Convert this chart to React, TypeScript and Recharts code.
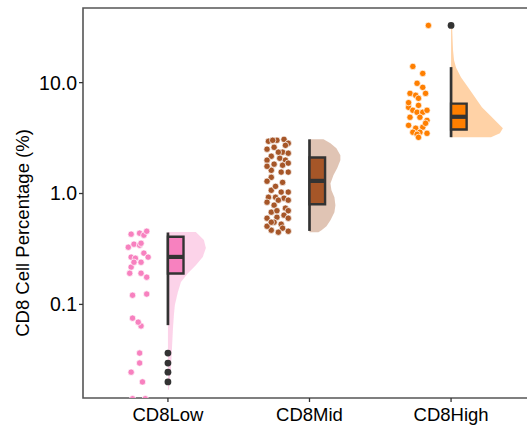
import React from 'react';
import { ComposedChart, Scatter, XAxis, YAxis, ReferenceArea } from 'recharts';

const categories = ['CD8Low', 'CD8Mid', 'CD8High'];
const pointColors = ['#F781BF', '#A65628', '#FF7F00'];
const yTicks = [0.1, 1, 10];

// jittered raw points (value, horizontal offset from category centre)
const lowValues = [0.43, 0.439, 0.421, 0.457, 0.328, 0.349, 0.342, 0.356, 0.267, 0.29, 0.267, 0.261, 0.217, 0.24, 0.24, 0.191, 0.191, 0.176, 0.121, 0.124, 0.0752, 0.0639, 0.0692, 0.0364, 0.0296, 0.0245, 0.02, 0.0141, 0.0141];
const lowJitter = [-0.26, -0.2, -0.17, -0.15, -0.28, -0.24, -0.2, -0.19, -0.26, -0.17, -0.14, -0.23, -0.26, -0.19, -0.24, -0.27, -0.19, -0.15, -0.25, -0.15, -0.25, -0.19, -0.21, -0.2, -0.2, -0.26, -0.18, -0.25, -0.16];

const midValues = [2.96, 3.02, 3.08, 2.84, 2.51, 2.61, 2.36, 2.31, 2.17, 2.08, 2.0, 2.0, 1.84, 1.8, 1.62, 1.56, 1.56, 1.4, 1.29, 1.26, 1.07, 1.03, 1.03, 0.926, 0.926, 0.907, 0.871, 0.835, 0.785, 0.738, 0.679, 0.638, 0.611, 0.599, 0.599, 0.551, 0.529, 0.467, 0.487, 0.457, 0.507, 0.448, 1.16, 2.72, 1.76, 2.36, 3.02, 1.88, 0.871, 0.551, 0.7, 0.7];
const midJitter = [-0.29, -0.23, -0.18, -0.15, -0.3, -0.25, -0.19, -0.15, -0.27, -0.21, -0.3, -0.17, -0.25, -0.19, -0.27, -0.2, -0.15, -0.27, -0.3, -0.19, -0.27, -0.2, -0.15, -0.29, -0.24, -0.18, -0.15, -0.3, -0.25, -0.17, -0.27, -0.18, -0.23, -0.3, -0.15, -0.25, -0.2, -0.27, -0.19, -0.15, -0.3, -0.22, -0.24, -0.17, -0.3, -0.22, -0.26, -0.15, -0.22, -0.27, -0.23, -0.15];

const highValues = [32.8, 14.0, 12.1, 9.86, 9.07, 8.0, 8.0, 7.69, 7.22, 6.24, 5.99, 5.63, 5.4, 5.4, 5.63, 4.87, 4.87, 4.57, 4.12, 3.88, 3.96, 3.57, 3.57, 3.49, 3.42, 3.21, 6.6, 4.3];
const highJitter = [-0.16, -0.27, -0.2, -0.24, -0.2, -0.18, -0.29, -0.25, -0.23, -0.23, -0.3, -0.27, -0.24, -0.2, -0.17, -0.29, -0.22, -0.17, -0.3, -0.25, -0.2, -0.27, -0.22, -0.17, -0.24, -0.23, -0.3, -0.18];

// box stats: whisker low, q1, median, q3, whisker high
const lowBox = [0.065, 0.19, 0.268, 0.407, 0.445];
const midBox = [0.46, 0.8, 1.3, 2.11, 3.08];
const highBox = [3.22, 3.78, 4.92, 6.47, 13.8];
const lowOutliers = [0.0364, 0.0296, 0.0245, 0.02];
const midOutliers: number[] = [];
const highOutliers = [32.8];

// half violins: density outline (width in category units)
const lowViolinLevels = [0.449, 0.38, 0.322, 0.268, 0.226, 0.191, 0.159, 0.129, 0.099, 0.08, 0.059, 0.039, 0.026, 0.017];
const lowViolinWidths = [0.197, 0.254, 0.268, 0.246, 0.197, 0.141, 0.092, 0.07, 0.049, 0.042, 0.035, 0.028, 0.021, 0.007];
const midViolinLevels = [3.08, 2.84, 2.56, 2.21, 2.0, 1.71, 1.46, 1.23, 1.07, 0.926, 0.785, 0.679, 0.575, 0.507, 0.467, 0.448];
const midViolinWidths = [0.099, 0.148, 0.19, 0.218, 0.218, 0.197, 0.169, 0.148, 0.155, 0.176, 0.183, 0.176, 0.148, 0.12, 0.085, 0.063];
const highViolinLevels = [32.8, 24.1, 19.6, 15.9, 13.7, 11.2, 9.07, 7.38, 5.99, 5.08, 4.39, 3.88, 3.49, 3.21];
const highViolinWidths = [0.007, 0.011, 0.014, 0.021, 0.035, 0.07, 0.12, 0.169, 0.218, 0.275, 0.324, 0.366, 0.345, 0.282];

const BOX_W = 0.11;
const FONT = '"Liberation Sans", Arial, sans-serif';

const groups = [
  { values: lowValues, jitter: lowJitter, box: lowBox, outliers: lowOutliers, vLevels: lowViolinLevels, vWidths: lowViolinWidths },
  { values: midValues, jitter: midJitter, box: midBox, outliers: midOutliers, vLevels: midViolinLevels, vWidths: midViolinWidths },
  { values: highValues, jitter: highJitter, box: highBox, outliers: highOutliers, vLevels: highViolinLevels, vWidths: highViolinWidths },
].map((g, i) => {
  const c = i + 1;
  const [wl, q1, med, q3, wh] = g.box;
  const violin = g.vLevels.map((v, k) => ({ x: c + g.vWidths[k], y: v }));
  violin.push({ x: c, y: g.vLevels[g.vLevels.length - 1] }, { x: c, y: g.vLevels[0] });
  return {
    color: pointColors[i],
    points: g.values.map((v, k) => ({ x: c + g.jitter[k], y: v })),
    violin,
    whisker: [{ x: c, y: wl }, { x: c, y: wh }],
    box: [{ x: c, y: q1 }, { x: c + BOX_W, y: q1 }, { x: c + BOX_W, y: q3 }, { x: c, y: q3 }],
    median: [{ x: c, y: med }, { x: c + BOX_W, y: med }],
    outliers: g.outliers.map((v) => ({ x: c, y: v })),
  };
});

const noDot = () => <g />;

const YLabel = () => (
  <text transform="translate(28.5,233) rotate(-90)" textAnchor="middle" fontSize={18.5} fontFamily={FONT} fill="#000">
    CD8 Cell Percentage (%)
  </text>
);

export default function App() {
  return (
    <div style={{ position: 'fixed', left: 0, top: 0, width: 527, height: 430, overflow: 'hidden', background: '#fff' }}>
      <ComposedChart width={540} height={430} margin={{ top: 8, right: 4, bottom: 0, left: 8 }}>
        <XAxis
          type="number"
          dataKey="x"
          domain={[0.4, 3.6]}
          ticks={[1, 2, 3]}
          interval={0}
          allowDataOverflow
          tickFormatter={(v: number) => categories[v - 1]}
          axisLine={false}
          tickLine={{ stroke: '#333', strokeWidth: 1.3 }}
          tickSize={4}
          tickMargin={6}
          height={32}
          tick={{ fill: '#000', fontSize: 18.5, fontFamily: FONT }}
        />
        <YAxis
          type="number"
          dataKey="y"
          scale="log"
          domain={[0.01432, 47.1]}
          ticks={yTicks}
          interval={0}
          allowDataOverflow
          tickFormatter={(v: number) => v.toFixed(1)}
          axisLine={false}
          tickLine={{ stroke: '#333', strokeWidth: 1.3 }}
          tickSize={4}
          tickMargin={2}
          width={75}
          tick={{ fill: '#000', fontSize: 19.5, fontFamily: FONT }}
          label={<YLabel />}
        />
        {groups.map((g, i) => (
          <Scatter
            key={`violin-${i}`}
            data={g.violin}
            isAnimationActive={false}
            shape={noDot}
            line={{ fill: g.color, fillOpacity: 0.35, stroke: 'none' }}
            lineJointType="linearClosed"
          />
        ))}
        {groups.map((g, i) => (
          <Scatter
            key={`pts-${i}`}
            data={g.points}
            isAnimationActive={false}
            shape={(p: any) => <circle cx={p.cx} cy={p.cy} r={3.2} fill={g.color} stroke="#fff" strokeWidth={0.7} />}
          />
        ))}
        {groups.map((g, i) => (
          <Scatter
            key={`wh-${i}`}
            data={g.whisker}
            isAnimationActive={false}
            shape={noDot}
            line={{ stroke: '#333', strokeWidth: 2.7 }}
          />
        ))}
        {groups.map((g, i) => (
          <Scatter
            key={`box-${i}`}
            data={g.box}
            isAnimationActive={false}
            shape={noDot}
            line={{ fill: g.color, stroke: '#333', strokeWidth: 2.4 }}
            lineJointType="linearClosed"
          />
        ))}
        {groups.map((g, i) => (
          <Scatter
            key={`med-${i}`}
            data={g.median}
            isAnimationActive={false}
            shape={noDot}
            line={{ stroke: '#333', strokeWidth: 4.2 }}
          />
        ))}
        {groups.map((g, i) => (
          <Scatter
            key={`out-${i}`}
            data={g.outliers}
            isAnimationActive={false}
            shape={(p: any) => <circle cx={p.cx} cy={p.cy} r={3.4} fill="#333" />}
          />
        ))}
        <ReferenceArea
          x1={0.4}
          x2={3.6}
          y1={0.01432}
          y2={47.1}
          fill="none"
          fillOpacity={0}
          stroke="#555"
          strokeWidth={1.6}
          ifOverflow="visible"
        />
      </ComposedChart>
    </div>
  );
}
